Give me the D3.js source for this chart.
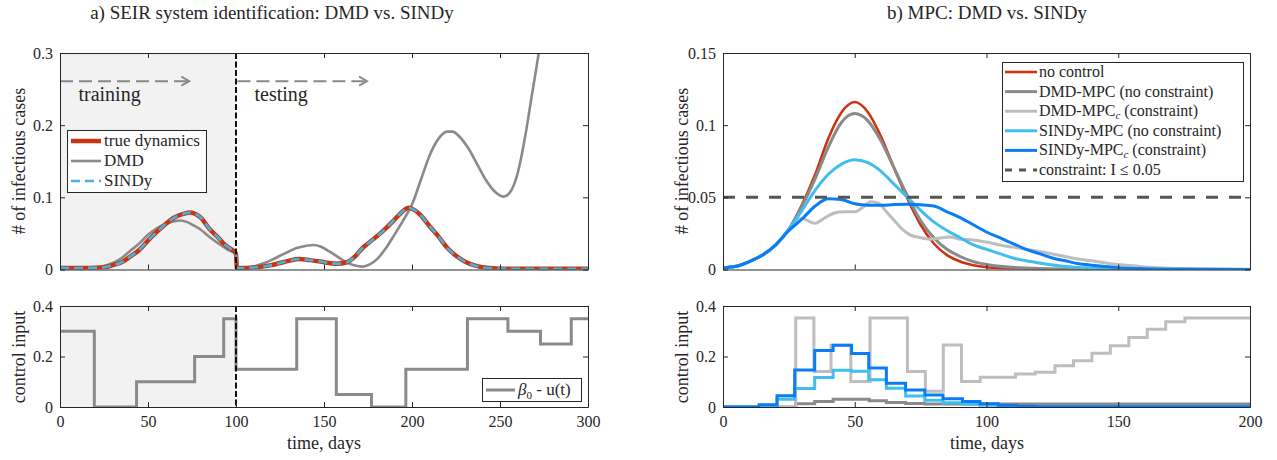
<!DOCTYPE html>
<html><head><meta charset="utf-8">
<script src="https://cdn.jsdelivr.net/npm/d3@7"></script>
<style>
body{margin:0;background:#fff}
</style>
</head><body>
<svg id="c" width="1277" height="460"></svg>
<script>
// ---------------- DATA ----------------
// Panel a) top: infectious cases (days, value)
const trueDays = [0,10,20,25,30,35,40,45,50,55,60,65,70,74,77,80,85,90,93,96,100,
  100.5,105,110,115,120,125,130,136,142,148,153,157,163,168,172,177,182,186,190,194,198,201,205,210,215,220,225,230,235,240,248,260,300];
const trueI = [0.002,0.002,0.0025,0.003,0.006,0.010,0.018,0.027,0.040,0.052,0.063,0.072,0.077,0.079,0.077,0.072,0.056,0.044,0.036,0.030,0.022,
  0.002,0.002,0.003,0.004,0.006,0.009,0.012,0.0145,0.013,0.011,0.009,0.008,0.010,0.019,0.030,0.040,0.050,0.059,0.069,0.079,0.0855,0.083,0.075,0.060,0.046,0.030,0.019,0.011,0.006,0.003,0.0015,0.001,0.001];
const sindyDays = [0,10,20,25,30,35,40,45,50,55,60,65,70,74,77,80,85,90,93,96,100,
  100.5,105,110,115,120,125,130,136,142,148,153,157,163,168,172,177,182,186,190,194,198,201,205,210,215,220,225,230,235,240,248,260,300];
const sindyI = [0.002,0.002,0.0025,0.003,0.006,0.010,0.018,0.027,0.040,0.052,0.063,0.072,0.077,0.079,0.077,0.072,0.056,0.044,0.036,0.030,0.022,
  0.002,0.002,0.003,0.004,0.006,0.009,0.012,0.0145,0.013,0.011,0.009,0.008,0.010,0.019,0.030,0.040,0.050,0.059,0.069,0.079,0.0855,0.083,0.075,0.060,0.046,0.030,0.019,0.011,0.006,0.003,0.0015,0.001,0.001];
const dmdDays = [0,10,20,25,30,35,40,45,50,55,60,65,68,72,76,80,85,90,95,100,
  100.5,105,110,115,120,125,130,135,140,144,148,153,157,162,167,172,176,180,185,190,195,200,205,210,215,220,223,227,232,237,242,247,252,256,260,264,268,272,276];
const dmdI = [0.002,0.002,0.003,0.005,0.009,0.016,0.026,0.036,0.048,0.057,0.063,0.067,0.068,0.066,0.061,0.055,0.045,0.036,0.028,0.021,
  0.0005,0.002,0.004,0.008,0.013,0.019,0.025,0.030,0.033,0.034,0.032,0.025,0.019,0.011,0.006,0.004,0.007,0.014,0.029,0.048,0.068,0.090,0.124,0.158,0.181,0.191,0.191,0.184,0.168,0.146,0.124,0.108,0.101,0.108,0.133,0.180,0.240,0.300,0.370];

// Panel a) bottom: beta0 - u(t) (step change days and levels)
const ctrlDays = [0,19.5,43.5,76.5,93,100,134.5,157,177,196.5,231.5,254.5,273,290.5,300];
const ctrlLevels = [0.30,0,0.10,0.20,0.35,0.15,0.35,0.05,0,0.15,0.35,0.30,0.25,0.35,0.35];

// Panel b) top: infectious cases under MPC
const noCtrlDays = [0,5,10,15,20,25,30,35,40,45,50,55,60,65,70,75,80,85,90,95,100,110,130,200];
const noCtrlI = [0.0012,0.0022,0.0055,0.010,0.017,0.028,0.045,0.066,0.091,0.109,0.116,0.109,0.092,0.070,0.049,0.031,0.018,0.010,0.0055,0.003,0.0016,0.0006,0.0001,0];
const dmdMpcDays = [0,5,10,15,20,25,30,35,40,45,50,55,60,65,70,75,80,85,90,95,100,110,120,140,200];
const dmdMpcI = [0.0012,0.0022,0.0055,0.010,0.017,0.028,0.044,0.063,0.085,0.102,0.108,0.103,0.089,0.070,0.051,0.034,0.022,0.014,0.009,0.0055,0.0035,0.0015,0.0007,0.0002,0];
const dmdMpcCDays = [0,5,10,15,20,25,28,30,32,35,38,42,46,50,53,56,59,62,65,68,71,75,79,83,86,90,95,100,105,110,115,120,128,134,140,147,153,160,167,180,200];
const dmdMpcCI = [0.0012,0.0022,0.0055,0.010,0.017,0.028,0.034,0.0355,0.034,0.032,0.035,0.039,0.040,0.040,0.043,0.047,0.046,0.040,0.034,0.028,0.024,0.022,0.021,0.022,0.0225,0.021,0.0205,0.019,0.017,0.0155,0.014,0.0125,0.0097,0.0075,0.006,0.004,0.003,0.0018,0.001,0.0004,0.0001];
const sindyMpcDays = [0,5,10,15,20,25,30,35,40,45,50,55,60,65,70,75,80,85,90,95,100,105,110,115,120,128,140,160,200];
const sindyMpcI = [0.0012,0.0022,0.0055,0.010,0.017,0.028,0.041,0.055,0.066,0.073,0.076,0.074,0.068,0.059,0.050,0.041,0.033,0.027,0.022,0.017,0.014,0.011,0.008,0.006,0.0045,0.0025,0.001,0.0002,0];
const sindyMpcCDays = [0,5,10,15,20,25,30,35,40,45,50,55,60,65,70,75,80,85,90,95,100,105,110,115,120,125,130,135,140,150,160,175,200];
const sindyMpcCI = [0.0012,0.0022,0.0055,0.010,0.017,0.027,0.035,0.044,0.049,0.0485,0.0455,0.0445,0.0445,0.045,0.0452,0.0448,0.044,0.040,0.036,0.031,0.026,0.022,0.018,0.014,0.011,0.008,0.006,0.004,0.003,0.0013,0.0006,0.0002,0];
const constraintI = 0.05;

// Panel b) bottom: control inputs (step change days and levels)
const dmdMpcUDays = [0,27.6,34.8,41.8,55.5,62,69.3,76.6,200];
const dmdMpcU = [0,0.013,0.022,0.031,0.025,0.018,0.014,0.012,0.012];
const dmdMpcCUDays = [0,27.6,34.5,41,48.5,55.8,70,76.8,83.6,90.5,97.6,111,118.5,126,133,140,147,154,161,168,175.3,200];
const dmdMpcCU = [0,0.352,0.141,0.245,0.101,0.352,0.141,0.062,0.246,0.101,0.118,0.131,0.138,0.163,0.183,0.213,0.243,0.275,0.308,0.338,0.352,0.352];
const sindyMpcUDays = [0,13.7,20.5,27.2,34.8,41.8,48.8,55.3,62,69.3,76.6,83.5,90.9,97.5,104.5,111.5,200];
const sindyMpcU = [0,0.002,0.031,0.073,0.117,0.146,0.142,0.108,0.074,0.044,0.027,0.017,0.011,0.007,0.004,0.002,0.002];
const sindyMpcCUDays = [0,13.7,20.5,27.2,34.8,41.8,48.8,55.3,62,69.3,76.6,83.5,90.9,97.5,104.5,111.5,118.5,200];
const sindyMpcCU = [0,0.009,0.045,0.147,0.224,0.245,0.212,0.154,0.094,0.067,0.048,0.033,0.022,0.013,0.007,0.003,0.001,0.001];

// Ticks
const xTicksA = [0,50,100,150,200,250,300];
const xTicksB = [0,50,100,150,200];
const yTicksAtop = [0,0.1,0.2,0.3];
const yTicksBtop = [0,0.05,0.1,0.15];
const yTicksCtrl = [0,0.2,0.4];

// ---------------- DRAWING ----------------
const SERIF = "'Liberation Serif', 'DejaVu Serif', serif";
const svg = d3.select("#c");
const C = {red:"#CC3311", dmd:"#8A8A8A", lgray:"#BEBEBE", lblue:"#40BEEF", blue:"#0A7DF5", sindy:"#3DB6E6", dash:"#555555", axis:"#262626"};
let clipN = 0;
const fmt = d => String(+d.toFixed(3));

function panel(x0,x1,y0,y1,xd,yd){
  const x = d3.scaleLinear().domain(xd).range([x0,x1]);
  const y = d3.scaleLinear().domain(yd).range([y1,y0]);
  const g = svg.append("g");
  const id = "clip"+(clipN++);
  svg.append("clipPath").attr("id",id).append("rect")
    .attr("x",x0).attr("y",y0).attr("width",x1-x0).attr("height",y1-y0);
  const plot = g.append("g").attr("clip-path",`url(#${id})`);
  return {x,y,g,plot,x0,x1,y0,y1};
}
function frame(p,xt,yt,showX){
  const {x,y,g,x0,x1,y0,y1} = p;
  const style = sel => { sel.attr("font-family",SERIF).attr("font-size",16);
    sel.selectAll("path,line").attr("stroke",C.axis).attr("stroke-width",1);
    sel.selectAll("text").attr("fill",C.axis); };
  g.append("g").attr("transform",`translate(0,${y1})`)
    .call(d3.axisBottom(x).tickValues(xt).tickSizeInner(-5).tickSizeOuter(0).tickPadding(9).tickFormat(showX?fmt:()=>"")).call(style);
  g.append("g").attr("transform",`translate(0,${y0})`)
    .call(d3.axisTop(x).tickValues(xt).tickSizeInner(-5).tickSizeOuter(0).tickFormat(()=>"")).call(style);
  g.append("g").attr("transform",`translate(${x0},0)`)
    .call(d3.axisLeft(y).tickValues(yt).tickSizeInner(-5).tickSizeOuter(0).tickPadding(7).tickFormat(fmt)).call(style);
  g.append("g").attr("transform",`translate(${x1},0)`)
    .call(d3.axisRight(y).tickValues(yt).tickSizeInner(-5).tickSizeOuter(0).tickFormat(()=>"")).call(style);
}
function smooth(p,days,vals,color,w,dash){
  const line = d3.line().x(d=>p.x(d[0])).y(d=>p.y(d[1])).curve(d3.curveMonotoneX);
  p.plot.append("path").datum(d3.zip(days,vals)).attr("d",line)
    .attr("fill","none").attr("stroke",color).attr("stroke-width",w)
    .attr("stroke-dasharray",dash||null).attr("stroke-linejoin","round");
}
function steps(p,days,vals,color,w){
  const line = d3.line().x(d=>p.x(d[0])).y(d=>p.y(d[1])).curve(d3.curveStepAfter);
  p.plot.append("path").datum(d3.zip(days,vals)).attr("d",line)
    .attr("fill","none").attr("stroke",color).attr("stroke-width",w);
}
function ylabel(x,y,t){
  svg.append("text").attr("transform",`translate(${x},${y}) rotate(-90)`)
    .attr("text-anchor","middle").attr("font-size",18).text(t);
}

// ---- Panel a) top
const aT = panel(60,588,53,269.5,[0,300],[0,0.3]);
aT.plot.append("rect").attr("x",aT.x(0)).attr("y",aT.y0).attr("width",aT.x(100)-aT.x(0)).attr("height",aT.y1-aT.y0).attr("fill","#F2F2F2");
smooth(aT,dmdDays,dmdI,C.dmd,2.6);
smooth(aT,trueDays,trueI,C.red,4.5);
smooth(aT,sindyDays,sindyI,C.sindy,2.6,"9,5");
aT.plot.append("line").attr("x1",aT.x(100)).attr("x2",aT.x(100)).attr("y1",aT.y0).attr("y2",aT.y1)
  .attr("stroke","#111").attr("stroke-width",2).attr("stroke-dasharray","6,2.5");
function arrow(p,d0,d1,v){
  const yy = p.y(v), xa = p.x(d0), xb = p.x(d1);
  p.plot.append("line").attr("x1",xa).attr("x2",xb-2).attr("y1",yy).attr("y2",yy)
    .attr("stroke","#888").attr("stroke-width",2).attr("stroke-dasharray","13,6");
  p.plot.append("path").attr("d",`M${xb-8},${yy-4.5}L${xb},${yy}L${xb-8},${yy+4.5}`)
    .attr("fill","none").attr("stroke","#888").attr("stroke-width",1.8);
}
arrow(aT,0,73.5,0.261);
arrow(aT,100.8,174.5,0.261);
aT.g.append("text").attr("x",aT.x(10.5)).attr("y",aT.y(0.234)).attr("font-size",20).text("training");
aT.g.append("text").attr("x",aT.x(110.5)).attr("y",aT.y(0.234)).attr("font-size",20).text("testing");
frame(aT,xTicksA,yTicksAtop,false);
{
  const lg = aT.g.append("g");
  lg.append("rect").attr("x",67.5).attr("y",130.5).attr("width",139).attr("height",62).attr("fill","#fff").attr("stroke",C.axis).attr("stroke-width",1);
  const items = [["true dynamics",C.red,4.5,null],["DMD",C.dmd,2.6,null],["SINDy",C.sindy,2.6,"9,5"]];
  items.forEach((it,i)=>{
    const yy = 141+i*20;
    lg.append("line").attr("x1",71).attr("x2",101).attr("y1",yy).attr("y2",yy).attr("stroke",it[1]).attr("stroke-width",it[2]).attr("stroke-dasharray",it[3]);
    lg.append("text").attr("x",104).attr("y",yy+5).attr("font-size",17).text(it[0]);
  });
}

// ---- Panel a) bottom
const aB = panel(60,588,306,407,[0,300],[0,0.4]);
aB.plot.append("rect").attr("x",aB.x(0)).attr("y",aB.y0).attr("width",aB.x(100)-aB.x(0)).attr("height",aB.y1-aB.y0).attr("fill","#F2F2F2");
steps(aB,ctrlDays,ctrlLevels,C.dmd,3);
aB.plot.append("line").attr("x1",aB.x(100)).attr("x2",aB.x(100)).attr("y1",aB.y0).attr("y2",aB.y1)
  .attr("stroke","#111").attr("stroke-width",2).attr("stroke-dasharray","6,2.5");
frame(aB,xTicksA,yTicksCtrl,true);
{
  const lg = aB.g.append("g");
  lg.append("rect").attr("x",482.5).attr("y",378.5).attr("width",99).attr("height",23).attr("fill","#fff").attr("stroke",C.axis);
  lg.append("line").attr("x1",486).attr("x2",515).attr("y1",390).attr("y2",390).attr("stroke",C.dmd).attr("stroke-width",3);
  const t = lg.append("text").attr("x",518).attr("y",395).attr("font-size",17);
  t.append("tspan").attr("font-style","italic").text("β");
  t.append("tspan").attr("font-size",11).attr("dy",4).text("0");
  t.append("tspan").attr("dy",-4).text(" - u(t)");
}

// ---- Panel b) top
const bT = panel(723,1250,53,269.5,[0,200],[0,0.15]);
smooth(bT,noCtrlDays,noCtrlI,C.red,2.6);
smooth(bT,dmdMpcDays,dmdMpcI,C.dmd,3);
smooth(bT,dmdMpcCDays,dmdMpcCI,C.lgray,3);
smooth(bT,sindyMpcDays,sindyMpcI,C.lblue,3);
smooth(bT,sindyMpcCDays,sindyMpcCI,C.blue,3);
bT.plot.append("line").attr("x1",bT.x(0)).attr("x2",bT.x(200)).attr("y1",bT.y(constraintI)).attr("y2",bT.y(constraintI))
  .attr("stroke",C.dash).attr("stroke-width",3).attr("stroke-dasharray","12,11");
frame(bT,xTicksB,yTicksBtop,false);
{
  const lg = bT.g.append("g");
  lg.append("rect").attr("x",1002.5).attr("y",62.5).attr("width",241).attr("height",119).attr("fill","#fff").attr("stroke",C.axis);
  const items = [
    [["no control"],C.red,2.6,null],
    [["DMD-MPC (no constraint)"],C.dmd,3,null],
    [["DMD-MPC","c"," (constraint)"],C.lgray,3,null],
    [["SINDy-MPC (no constraint)"],C.lblue,3,null],
    [["SINDy-MPC","c"," (constraint)"],C.blue,3,null],
    [["constraint: I ≤ 0.05"],C.dash,3,"7,7"]];
  items.forEach((it,i)=>{
    const yy = 72+i*19.6;
    lg.append("line").attr("x1",1005).attr("x2",1037).attr("y1",yy).attr("y2",yy).attr("stroke",it[1]).attr("stroke-width",it[2]).attr("stroke-dasharray",it[3]);
    const t = lg.append("text").attr("x",1039).attr("y",yy+5).attr("font-size",16);
    t.append("tspan").text(it[0][0]);
    if(it[0].length>1){
      t.append("tspan").attr("font-size",11).attr("font-style","italic").attr("dy",3).text(it[0][1]);
      t.append("tspan").attr("dy",-3).text(it[0][2]);
    }
  });
}

// ---- Panel b) bottom
const bB = panel(723,1250,306,407,[0,200],[0,0.4]);
steps(bB,dmdMpcUDays,dmdMpcU,C.dmd,3);
steps(bB,dmdMpcCUDays,dmdMpcCU,C.lgray,3);
steps(bB,sindyMpcUDays,sindyMpcU,C.lblue,3);
steps(bB,sindyMpcCUDays,sindyMpcCU,C.blue,3);
frame(bB,xTicksB,yTicksCtrl,true);

// ---- Titles and labels
svg.append("text").attr("x",272).attr("y",19).attr("text-anchor","middle").attr("font-size",19).text("a) SEIR system identification: DMD vs. SINDy");
svg.append("text").attr("x",987).attr("y",19).attr("text-anchor","middle").attr("font-size",19).text("b) MPC: DMD vs. SINDy");
ylabel(25,161,"# of infectious cases");
ylabel(25,357,"control input");
ylabel(688,161,"# of infectious cases");
ylabel(688,357,"control input");
svg.append("text").attr("x",324).attr("y",449).attr("text-anchor","middle").attr("font-size",18).text("time, days");
svg.append("text").attr("x",987).attr("y",449).attr("text-anchor","middle").attr("font-size",18).text("time, days");

svg.selectAll("text").style("font-family",SERIF).attr("fill",C.axis);
</script>
</body></html>
